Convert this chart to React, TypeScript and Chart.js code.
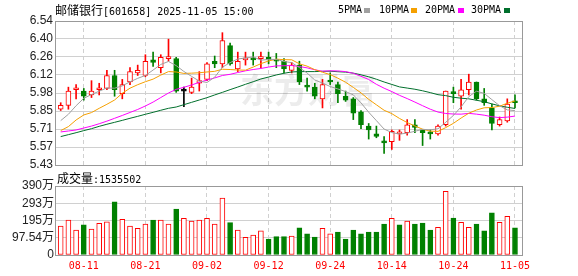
import React, { useEffect, useRef } from 'react';
import { Chart, registerables } from 'chart.js';

Chart.register(...registerables);

// ---------------- data ----------------
const dates = [
  '08-06', '08-07', '08-08', '08-11', '08-12', '08-13', '08-14', '08-15', '08-18', '08-19',
  '08-20', '08-21', '08-22', '08-25', '08-26', '08-27', '08-28', '08-29', '09-01', '09-02',
  '09-03', '09-04', '09-05', '09-08', '09-09', '09-10', '09-11', '09-12', '09-15', '09-16',
  '09-17', '09-18', '09-19', '09-22', '09-23', '09-24', '09-25', '09-26', '09-29', '09-30',
  '10-09', '10-10', '10-13', '10-14', '10-15', '10-16', '10-17', '10-20', '10-21', '10-22',
  '10-23', '10-24', '10-27', '10-28', '10-29', '10-30', '10-31', '11-03', '11-04', '11-05',
];

const opens = [
  5.86, 5.89, 6.01, 6.0, 5.97, 6.01, 6.02, 6.12, 5.98, 6.07,
  6.14, 6.12, 6.24, 6.18, 6.25, 6.25, 6.0, 5.99, 6.06, 6.09,
  6.23, 6.21, 6.35, 6.17, 6.24, 6.25, 6.25, 6.26, 6.24, 6.23,
  6.16, 6.2, 6.04, 6.03, 5.94, 6.08, 6.05, 5.96, 5.94, 5.84,
  5.73, 5.67, 5.61, 5.61, 5.67, 5.68, 5.74, 5.7, 5.68, 5.67,
  5.74, 5.99, 5.96, 6.01, 6.07, 5.94, 5.87, 5.74, 5.77, 5.92,
];
const highs = [
  5.91, 6.03, 6.05, 6.02, 6.08, 6.06, 6.16, 6.16, 6.09, 6.18,
  6.2, 6.28, 6.3, 6.28, 6.4, 6.26, 6.03, 6.1, 6.15, 6.22,
  6.27, 6.45, 6.37, 6.3, 6.3, 6.3, 6.3, 6.3, 6.29, 6.25,
  6.22, 6.23, 6.1, 6.06, 6.09, 6.14, 6.07, 6.0, 5.95, 5.85,
  5.75, 5.73, 5.65, 5.7, 5.7, 5.78, 5.78, 5.7, 5.7, 5.74,
  6.0, 6.03, 6.09, 6.13, 6.07, 6.02, 5.9, 5.8, 5.94, 5.97,
];
const lows = [
  5.85, 5.86, 5.94, 5.93, 5.95, 5.97, 6.01, 5.96, 5.94, 6.05,
  6.12, 6.11, 6.19, 6.14, 6.23, 5.99, 5.88, 5.98, 6.0, 6.08,
  6.18, 6.18, 6.2, 6.15, 6.2, 6.2, 6.18, 6.21, 6.18, 6.14,
  6.14, 6.05, 6.0, 5.94, 5.87, 6.05, 5.91, 5.92, 5.78, 5.71,
  5.63, 5.64, 5.52, 5.55, 5.62, 5.66, 5.68, 5.58, 5.63, 5.66,
  5.73, 5.91, 5.86, 5.97, 5.93, 5.89, 5.7, 5.73, 5.76, 5.87,
];
const closes = [
  5.89, 6.0, 6.02, 5.96, 6.0, 6.02, 6.12, 6.01, 6.05, 6.15,
  6.16, 6.23, 6.22, 6.26, 6.26, 6.0, 6.0, 6.03, 6.08, 6.21,
  6.21, 6.39, 6.21, 6.23, 6.25, 6.24, 6.26, 6.24, 6.23, 6.17,
  6.2, 6.07, 6.03, 5.96, 6.05, 6.07, 5.98, 5.93, 5.83, 5.74,
  5.7, 5.65, 5.6, 5.69, 5.68, 5.74, 5.72, 5.68, 5.67, 5.73,
  6.0, 5.98, 6.01, 6.07, 5.94, 5.91, 5.75, 5.78, 5.9, 5.91,
];

const ma5 = [
  5.772, 5.821, 5.887, 5.944, 5.973, 5.999, 6.024, 6.022, 6.04, 6.071,
  6.098, 6.12, 6.162, 6.205, 6.228, 6.196, 6.151, 6.113, 6.077, 6.066,
  6.107, 6.184, 6.219, 6.247, 6.255, 6.263, 6.238, 6.244, 6.244, 6.228,
  6.219, 6.181, 6.139, 6.085, 6.062, 6.035, 6.016, 5.996, 5.971, 5.909,
  5.837, 5.772, 5.707, 5.68, 5.668, 5.676, 5.69, 5.705, 5.701, 5.709,
  5.759, 5.812, 5.878, 5.957, 5.999, 5.982, 5.934, 5.887, 5.855, 5.849,
];
const ma10 = [
  5.695, 5.726, 5.777, 5.816, 5.834, 5.867, 5.898, 5.931, 5.983, 6.022,
  6.049, 6.072, 6.092, 6.123, 6.15, 6.147, 6.136, 6.138, 6.141, 6.147,
  6.152, 6.168, 6.166, 6.162, 6.161, 6.185, 6.211, 6.232, 6.246, 6.242,
  6.241, 6.21, 6.192, 6.165, 6.145, 6.127, 6.099, 6.068, 6.028, 5.986,
  5.936, 5.894, 5.852, 5.826, 5.789, 5.757, 5.731, 5.706, 5.691, 5.689,
  5.718, 5.751, 5.792, 5.829, 5.854, 5.871, 5.873, 5.883, 5.906, 5.924,
];
const ma20 = [
  5.685, 5.692, 5.7, 5.715, 5.73, 5.748, 5.768, 5.79, 5.812, 5.835,
  5.858, 5.885, 5.915, 5.95, 5.985, 6.013, 6.029, 6.047, 6.067, 6.085,
  6.101, 6.12, 6.129, 6.143, 6.156, 6.166, 6.174, 6.185, 6.194, 6.195,
  6.197, 6.189, 6.179, 6.164, 6.153, 6.156, 6.155, 6.15, 6.137, 6.114,
  6.089, 6.052, 6.022, 5.996, 5.967, 5.942, 5.915, 5.887, 5.86, 5.838,
  5.827, 5.823, 5.822, 5.828, 5.822, 5.814, 5.802, 5.795, 5.799, 5.807,
];
const ma30 = [
  5.649, 5.664, 5.679, 5.695, 5.71, 5.728, 5.744, 5.759, 5.774, 5.79,
  5.805, 5.821, 5.836, 5.852, 5.867, 5.877, 5.895, 5.913, 5.931, 5.949,
  5.97, 5.99, 6.011, 6.031, 6.052, 6.072, 6.093, 6.108, 6.124, 6.137,
  6.147, 6.15, 6.15, 6.15, 6.152, 6.153, 6.149, 6.146, 6.138, 6.125,
  6.11, 6.091, 6.07, 6.051, 6.032, 6.023, 6.014, 6.002, 5.988, 5.972,
  5.965, 5.952, 5.945, 5.94, 5.929, 5.918, 5.901, 5.886, 5.875, 5.866,
];

const volumes = [
  1640000, 1980000, 1410000, 1700000, 1470000, 1790000, 1870000, 3000000, 2020000, 1640000,
  1510000, 1750000, 1980000, 1980000, 1750000, 2600000, 2070000, 1920000, 1980000, 2070000,
  1750000, 3220000, 1830000, 1410000, 1000000, 1130000, 1360000, 900000, 1040000, 1040000,
  1070000, 1530000, 1190000, 1020000, 1510000, 1190000, 1300000, 900000, 1410000, 1190000,
  1300000, 1300000, 1750000, 2070000, 1700000, 1920000, 1750000, 1810000, 1410000, 1560000,
  3600000, 2090000, 1850000, 1560000, 1750000, 1360000, 2380000, 1850000, 2190000, 1535502,
];
// 1 = up (red hollow), -1 = down (green solid)
const volumeDir = [
  1, 1, 1, -1, 1, 1, 1, -1, 1, 1,
  1, 1, -1, 1, 1, -1, 1, 1, 1, 1,
  1, 1, -1, 1, 1, 1, 1, -1, -1, -1,
  1, -1, -1, -1, 1, 1, -1, -1, -1, -1,
  -1, -1, -1, 1, -1, 1, -1, -1, -1, 1,
  1, -1, 1, 1, -1, -1, -1, 1, 1, -1,
];

const priceTickLabels = ['5.43', '5.57', '5.71', '5.85', '5.98', '6.12', '6.26', '6.40', '6.54'];
const priceMin = 5.43;
const priceMax = 6.54;
const volumeTickLabels = ['0', '97.54万', '195万', '293万', '390万'];
const volumeMax = 3901600;
const dateLabelStep = 8;
const maLegend = ['5PMA', '10PMA', '20PMA', '30PMA'];
const lastVolume = 1535502;

// ---------------- styles ----------------
const RED = '#ff0000';
const GREEN = '#008000';
const MA_COLORS = ['#a0a0a0', '#f5a000', '#ff00ff', '#006f2c'];
const GRID = '#d0d0d0';
const FRAME = '#999999';
const X_MIN = -0.61;
const X_MAX = 59.91;

const candleColor = (i: number) =>
  closes[i] > opens[i] ? RED : closes[i] < opens[i] ? GREEN : '#000000';
const candleFill = (i: number) =>
  closes[i] > opens[i] ? '#ffffff' : closes[i] < opens[i] ? GREEN : '#000000';

const dateTickIdx = dates.map((_, i) => i).filter((i) => (dates.length - 1 - i) % dateLabelStep === 0);

const framePlugin = {
  id: 'frame',
  afterDatasetsDraw(chart: any) {
    const { ctx, chartArea: a } = chart;
    ctx.save();
    ctx.strokeStyle = FRAME;
    ctx.lineWidth = 1;
    const l = Math.round(a.left) - 0.5;
    const r = Math.round(a.right) + 0.5;
    const t = Math.round(a.top) + 0.5;
    const b = Math.round(a.bottom) + 0.5;
    ctx.strokeRect(l, t, r - l, b - t);
    ctx.restore();
  },
};

const watermarkPlugin = {
  id: 'watermark',
  beforeDatasetsDraw(chart: any) {
    const { ctx } = chart;
    ctx.save();
    ctx.fillStyle = 'rgba(0,0,0,0.075)';
    ctx.font = 'bold 34px "Noto Sans CJK SC"';
    ctx.textBaseline = 'middle';
    ctx.fillText('东方财富', 240, 90);
    ctx.restore();
  },
};

const yTickFont = { family: '"Liberation Sans", "Noto Sans CJK SC"', size: 12 };

export default function App() {
  const priceRef = useRef<HTMLCanvasElement>(null);
  const volRef = useRef<HTMLCanvasElement>(null);

  useEffect(() => {
    const xBase = (showLabels: boolean, height: number) => ({
      type: 'linear' as const,
      min: X_MIN,
      max: X_MAX,
      bounds: 'data' as const,
      offset: false,
      grid: { color: GRID, drawTicks: false, offset: false },
      border: { display: false, dash: [4, 3] },
      ticks: {
        display: showLabels,
        autoSkip: false,
        maxRotation: 0,
        color: RED,
        padding: 5,
        font: { family: '"DejaVu Sans Mono", monospace', size: 10 },
        callback: (v: any) => dates[v as number] ?? '',
      },
      afterBuildTicks: (s: any) => {
        s.ticks = dateTickIdx.map((v) => ({ value: v }));
      },
      afterFit: (s: any) => {
        s.height = height;
      },
    });

    const priceChart = new Chart(priceRef.current!, {
      type: 'bar',
      data: {
        datasets: [
          ...[ma5, ma10, ma20, ma30].map((arr, k) => ({
            type: 'line' as const,
            label: maLegend[k],
            data: arr.map((v, i) => ({ x: i, y: v })),
            borderColor: MA_COLORS[k],
            borderWidth: 1,
            pointRadius: 0,
            tension: 0,
            order: 0,
          })),
          {
            type: 'bar' as const,
            label: 'body',
            data: opens.map((o, i) => ({ x: i, y: [o, closes[i]] })),
            backgroundColor: opens.map((_, i) => candleFill(i)),
            borderColor: opens.map((_, i) => candleColor(i)),
            borderWidth: 1,
            borderSkipped: false,
            barThickness: 5,
            minBarLength: 2,
            grouped: false,
            order: 1,
          },
          {
            type: 'bar' as const,
            label: 'wick',
            data: lows.map((l, i) => ({ x: i, y: [l, highs[i]] })),
            backgroundColor: opens.map((_, i) => candleColor(i)),
            borderWidth: 0,
            barThickness: 1,
            grouped: false,
            order: 2,
          },
        ] as any,
      },
      options: {
        animation: false,
        responsive: false,
        maintainAspectRatio: false,
        layout: { padding: { left: 0, right: 56, top: 21, bottom: 15 } },
        plugins: { legend: { display: false }, tooltip: { enabled: false } },
        scales: {
          x: xBase(false, 0) as any,
          y: {
            min: priceMin,
            max: priceMax,
            bounds: 'data',
            grid: { color: GRID, drawTicks: false },
            border: { display: false },
            ticks: {
              color: '#222',
              padding: 3,
              autoSkip: false,
              font: yTickFont,
              callback: (_v: any, i: number) => priceTickLabels[i],
            },
            afterBuildTicks: (s: any) => {
              const n = priceTickLabels.length - 1;
              s.ticks = priceTickLabels.map((_, i) => ({
                value: priceMin + ((priceMax - priceMin) * i) / n,
              }));
            },
            afterFit: (s: any) => {
              s.width = 56;
            },
          } as any,
        },
      },
      plugins: [framePlugin, watermarkPlugin],
    });

    const volChart = new Chart(volRef.current!, {
      type: 'bar',
      data: {
        datasets: [
          {
            label: 'volume',
            data: volumes.map((v, i) => ({ x: i, y: v })),
            backgroundColor: volumeDir.map((d) => (d > 0 ? '#ffffff' : GREEN)),
            borderColor: volumeDir.map((d) => (d > 0 ? RED : GREEN)),
            borderWidth: 1,
            borderSkipped: false,
            barThickness: 5,
            grouped: false,
          },
        ] as any,
      },
      options: {
        animation: false,
        responsive: false,
        maintainAspectRatio: false,
        layout: { padding: { left: 0, right: 56, top: 16, bottom: 0 } },
        plugins: { legend: { display: false }, tooltip: { enabled: false } },
        scales: {
          x: xBase(true, 21) as any,
          y: {
            min: 0,
            max: volumeMax,
            bounds: 'data',
            grid: { color: GRID, drawTicks: false },
            border: { display: false },
            ticks: {
              color: '#222',
              padding: 2,
              autoSkip: false,
              font: yTickFont,
              callback: (_v: any, i: number) => volumeTickLabels[i],
            },
            afterBuildTicks: (s: any) => {
              const n = volumeTickLabels.length - 1;
              s.ticks = volumeTickLabels.map((_, i) => ({ value: (volumeMax * i) / n }));
            },
            afterFit: (s: any) => {
              s.width = 56;
            },
          } as any,
        },
      },
      plugins: [framePlugin],
    });

    return () => {
      priceChart.destroy();
      volChart.destroy();
    };
  }, []);

  const mono: React.CSSProperties = { fontFamily: '"DejaVu Sans Mono", monospace', fontSize: 10 };
  const cjk: React.CSSProperties = { fontFamily: '"Noto Sans CJK SC", sans-serif', fontSize: 12 };
  const legendX = [338, 379, 425, 471];
  const squareX = [364, 411, 458, 504];

  return (
    <div
      style={{
        position: 'absolute',
        left: 0,
        top: 0,
        width: 578,
        height: 276,
        background: '#ffffff',
        overflow: 'hidden',
        color: '#000',
      }}
    >
      <canvas
        ref={priceRef}
        width={578}
        height={180}
        style={{ position: 'absolute', left: 0, top: 0, width: 578, height: 180 }}
      />
      <canvas
        ref={volRef}
        width={578}
        height={106}
        style={{ position: 'absolute', left: 0, top: 170, width: 578, height: 106 }}
      />
      <div style={{ position: 'absolute', left: 55, top: 2, lineHeight: '16px', whiteSpace: 'nowrap' }}>
        <span style={cjk}>邮储银行</span>
        <span style={mono}>[601658] 2025-11-05 15:00</span>
      </div>
      {maLegend.map((t, k) => (
        <React.Fragment key={t}>
          <div
            style={{
              ...mono,
              position: 'absolute',
              left: legendX[k],
              top: 3,
              lineHeight: '14px',
              whiteSpace: 'nowrap',
            }}
          >
            {t}
          </div>
          <div
            style={{
              position: 'absolute',
              left: squareX[k],
              top: 8,
              width: 6,
              height: 5,
              background: MA_COLORS[k],
            }}
          />
        </React.Fragment>
      ))}
      <div style={{ position: 'absolute', left: 57, top: 170, lineHeight: '16px', whiteSpace: 'nowrap' }}>
        <span style={cjk}>成交量</span>
        <span style={mono}>:{lastVolume}</span>
      </div>
    </div>
  );
}
